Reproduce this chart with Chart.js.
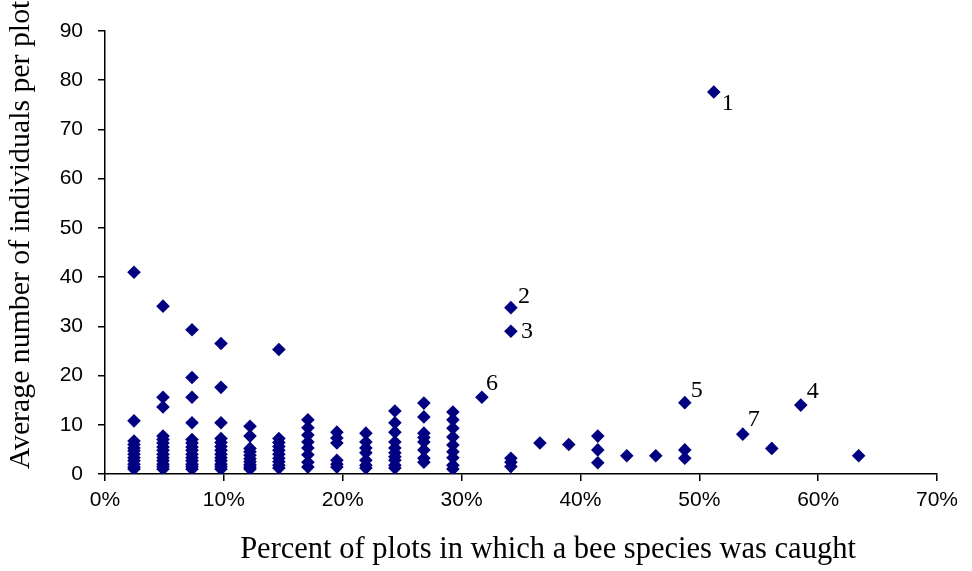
<!DOCTYPE html>
<html>
<head>
<meta charset="utf-8">
<script src="https://cdn.jsdelivr.net/npm/chart.js@4"></script>
<style>
  html, body { margin: 0; padding: 0; background: #fff; }
  #wrap { width: 972px; height: 571px; }
</style>
</head>
<body>
<div id="wrap"><canvas id="beeChart"></canvas></div>
<script>
// percent of the 41 plots in which each species was caught
const pctCaught = [
  2.44, 2.44, 2.44, 2.44, 2.44, 2.44, 2.44, 2.44, 2.44, 2.44, 2.44, 2.44,
  4.88, 4.88, 4.88, 4.88, 4.88, 4.88, 4.88, 4.88, 4.88, 4.88, 4.88, 4.88, 4.88, 4.88,
  7.32, 7.32, 7.32, 7.32, 7.32, 7.32, 7.32, 7.32, 7.32, 7.32, 7.32, 7.32, 7.32, 7.32,
  9.76, 9.76, 9.76, 9.76, 9.76, 9.76, 9.76, 9.76, 9.76, 9.76, 9.76, 9.76, 9.76,
  12.2, 12.2, 12.2, 12.2, 12.2, 12.2, 12.2, 12.2, 12.2, 12.2,
  14.63, 14.63, 14.63, 14.63, 14.63, 14.63, 14.63, 14.63, 14.63, 14.63,
  17.07, 17.07, 17.07, 17.07, 17.07, 17.07, 17.07, 17.07,
  19.51, 19.51, 19.51, 19.51, 19.51, 19.51,
  21.95, 21.95, 21.95, 21.95, 21.95, 21.95, 21.95,
  24.39, 24.39, 24.39, 24.39, 24.39, 24.39, 24.39, 24.39, 24.39, 24.39,
  26.83, 26.83, 26.83, 26.83, 26.83, 26.83, 26.83, 26.83,
  29.27, 29.27, 29.27, 29.27, 29.27, 29.27, 29.27, 29.27, 29.27,
  31.71,
  34.15, 34.15, 34.15, 34.15, 34.15,
  36.59, 39.02,
  41.46, 41.46, 41.46,
  43.9, 46.34,
  48.78, 48.78, 48.78,
  51.22, 53.66, 56.1, 58.54, 63.41
];

// average number of individuals per plot
const avgPerPlot = [
  41.0, 10.8, 6.7, 6.0, 5.3, 4.7, 4.0, 3.3, 2.7, 2.0, 1.4, 1.0,
  34.1, 15.6, 13.6, 7.7, 7.0, 6.3, 5.5, 4.8, 4.0, 3.3, 2.7, 2.0, 1.5, 1.0,
  29.3, 19.6, 15.6, 10.4, 7.0, 6.3, 5.5, 4.8, 4.0, 3.3, 2.7, 2.0, 1.5, 1.0,
  26.5, 17.6, 10.4, 7.2, 6.4, 5.6, 4.8, 4.0, 3.3, 2.7, 2.0, 1.5, 1.0,
  9.7, 7.7, 5.2, 4.5, 3.8, 3.1, 2.5, 1.9, 1.4, 1.0,
  25.3, 7.2, 6.4, 5.6, 4.8, 4.0, 3.2, 2.5, 1.8, 1.2,
  11.0, 9.4, 7.9, 6.5, 5.3, 3.9, 2.4, 1.4,
  8.5, 7.3, 6.3, 2.8, 2.0, 1.4,
  8.3, 6.5, 5.3, 4.3, 2.8, 1.8, 1.2,
  12.8, 10.4, 8.5, 6.5, 5.3, 4.3, 3.5, 2.8, 1.8, 1.2,
  14.4, 11.6, 8.3, 7.4, 6.5, 4.9, 3.2, 2.4,
  12.6, 11.0, 9.3, 7.5, 5.9, 4.5, 3.3, 1.8, 1.0,
  15.6,
  33.8, 29.0, 3.2, 2.4, 1.5,
  6.3, 6.0,
  7.7, 4.9, 2.3,
  3.7, 3.7,
  14.5, 4.9, 3.2,
  77.6, 8.1, 5.2, 14.0, 3.7
];

// numbered species: which point gets which label
const labelPct = [51.22, 34.15, 34.15, 58.54, 48.78, 31.71, 53.66];
const labelAvg = [77.6, 33.8, 29.0, 14.0, 14.5, 15.6, 8.1];
const labelText = ['1', '2', '3', '4', '5', '6', '7'];
// pixel offsets of each label from its point
const labelOffsets = {
  '1': [14, 12], '2': [13, -11], '3': [16, 0], '4': [12, -13],
  '5': [12, -12], '6': [10, -14], '7': [11, -14]
};

const xTitle = 'Percent of plots in which a bee species was caught';
const yTitle = 'Average number of individuals per plot';

const points = pctCaught.map((x, i) => ({ x, y: avgPerPlot[i] }));

const serif = '"Liberation Serif", "Times New Roman", serif';

const pointLabels = {
  id: 'pointLabels',
  afterDatasetsDraw(chart) {
    const { ctx, scales } = chart;
    ctx.save();
    ctx.fillStyle = '#000';
    ctx.font = '24px ' + serif;
    ctx.textAlign = 'center';
    ctx.textBaseline = 'middle';
    labelText.forEach((t, i) => {
      const px = scales.x.getPixelForValue(labelPct[i]);
      const py = scales.y.getPixelForValue(labelAvg[i]);
      const off = labelOffsets[t];
      ctx.fillText(t, px + off[0], py + off[1]);
    });
    ctx.restore();
  }
};

// axis titles, placed like the original (slightly off the plot centre)
const axisTitles = {
  id: 'axisTitles',
  afterDraw(chart) {
    const { ctx } = chart;
    ctx.save();
    ctx.fillStyle = '#000';
    ctx.textAlign = 'center';
    ctx.textBaseline = 'middle';
    ctx.font = '30.5px ' + serif;
    ctx.fillText(xTitle, 548, 550);
    ctx.font = '29.8px ' + serif;
    ctx.translate(21, 235);
    ctx.rotate(-Math.PI / 2);
    ctx.fillText(yTitle, 0, 0);
    ctx.restore();
  }
};

const tickFont = { family: '"Liberation Sans", Arial, sans-serif', size: 21 };

new Chart(document.getElementById('beeChart'), {
  type: 'scatter',
  data: {
    datasets: [{
      data: points,
      pointStyle: 'rectRot',
      pointRadius: 6.8,
      pointHoverRadius: 6.8,
      backgroundColor: '#000080',
      borderColor: '#000080',
      borderWidth: 0
    }]
  },
  options: {
    responsive: true,
    maintainAspectRatio: false,
    animation: false,
    layout: { padding: { top: 31, right: 35, left: 0, bottom: 0 } },
    plugins: {
      legend: { display: false },
      tooltip: { enabled: false }
    },
    scales: {
      x: {
        type: 'linear',
        min: 0,
        max: 70,
        afterFit: (axis) => { axis.height = 97; },
        ticks: {
          stepSize: 10,
          color: '#000',
          font: tickFont,
          padding: 7,
          maxRotation: 0,
          callback: (v) => v + '%'
        },
        grid: { drawOnChartArea: false, drawTicks: true, tickLength: 7, color: '#000', lineWidth: 1.5 },
        border: { display: true, color: '#000', width: 1.5 },
        title: { display: false }
      },
      y: {
        type: 'linear',
        min: 0,
        max: 90,
        afterFit: (axis) => { axis.width = 105; },
        ticks: {
          stepSize: 10,
          color: '#000',
          font: tickFont,
          padding: 15
        },
        grid: { drawOnChartArea: false, drawTicks: true, tickLength: 7, color: '#000', lineWidth: 1.5 },
        border: { display: true, color: '#000', width: 1.5 },
        title: { display: false }
      }
    }
  },
  plugins: [pointLabels, axisTitles]
});
</script>
</body>
</html>
